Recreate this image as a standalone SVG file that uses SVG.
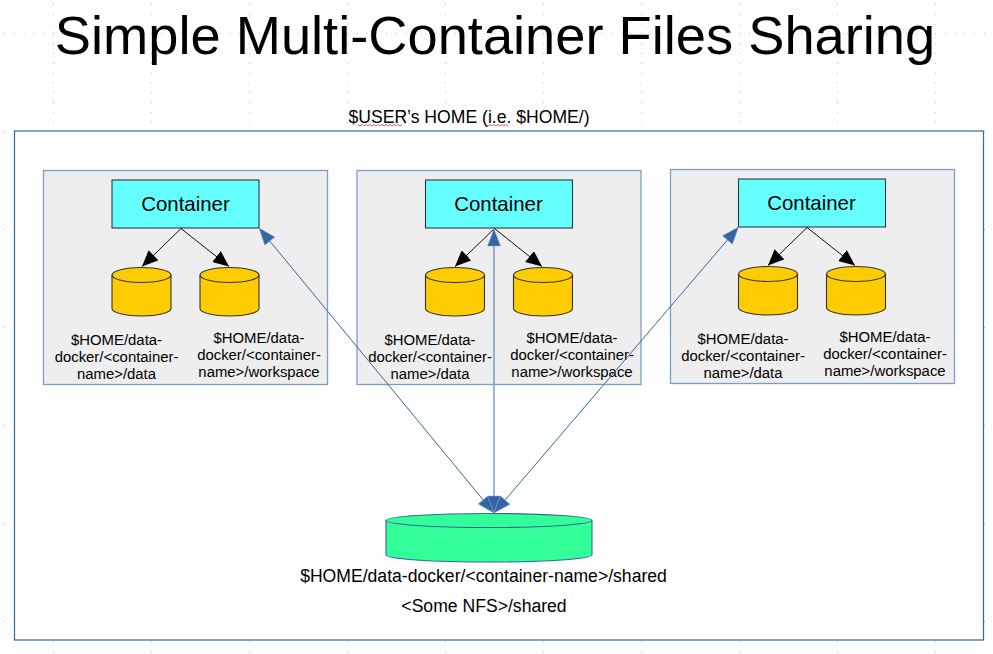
<svg xmlns="http://www.w3.org/2000/svg" width="993" height="654" viewBox="0 0 993 654">
<style>
text{font-family:"Liberation Sans",Arial,sans-serif;fill:#000;text-anchor:middle}
.t{font-size:14.9px}
.c{font-size:20.4px}
.s{font-size:17.6px}
.panel{fill:#eeeeee;stroke:#7f9cc8;stroke-width:1.3}
.box{fill:#66ffff;stroke:#2f3a3f;stroke-width:1.1}
.cyl{fill:#ffcc00;stroke:#333;stroke-width:1.1}
.k{stroke:#111;stroke-width:1;fill:none;marker-end:url(#ka)}
.b{stroke:#3465a4;stroke-width:1;fill:none;marker-start:url(#ba);marker-end:url(#ba)}
.w{fill:none;stroke:#e03030;stroke-width:.8}
</style>
<defs>
<pattern id="gv" width="98" height="9.8" patternUnits="userSpaceOnUse" x="53" y="4"><rect width="1" height="1" fill="#bbb"/></pattern>
<pattern id="gh" width="9.8" height="98" patternUnits="userSpaceOnUse" x="4" y="33"><rect width="1" height="1" fill="#bbb"/></pattern>
<marker id="ka" markerUnits="userSpaceOnUse" markerWidth="16" markerHeight="14" refX="16" refY="7" orient="auto"><path d="M0 0L16 7L0 14Z" fill="#000"/></marker>
<marker id="ba" markerUnits="userSpaceOnUse" markerWidth="20" markerHeight="16" refX="18" refY="8" orient="auto-start-reverse"><path d="M1 1.500L18 8L1 14.500Z" fill="#3465a4" stroke="#8fa8d0" stroke-width=".5"/></marker>
<g id="cyl"><path class="cyl" d="M0 7.500A29.500 7.500 0 0 1 59 7.500V41A29.500 7.500 0 0 1 0 41Z"/><path class="cyl" style="fill:none" d="M0 7.500A29.500 7.500 0 0 0 59 7.500"/></g>
</defs>
<rect width="993" height="654" fill="#fff"/>
<rect width="993" height="654" fill="url(#gv)"/>
<rect width="993" height="654" fill="url(#gh)"/>
<g id="title"><text x="495" y="54" style="font-size:54.25px">Simple Multi-Container Files Sharing</text></g>
<g id="home">
<rect x="14.500" y="131" width="969" height="509" fill="#fff" stroke="#3465a4" stroke-width="1.2"/>
<text x="469" y="123" class="s">$USER’s HOME (i.e. $HOME/)</text>
<path class="w" d="M358 124.500l2 1.500 2-1.500 2 1.500 2-1.500 2 1.500 2-1.500 2 1.500 2-1.500 2 1.500 2-1.500 2 1.500 2-1.500 2 1.500 2-1.500 2 1.500 2-1.500 2 1.500 2-1.500 2 1.500 2-1.500 2 1.500 2-1.500"/>
<path class="w" d="M486 124.500l2 1.500 2-1.500 2 1.500 2-1.500 2 1.500 2-1.500 2 1.500 2-1.500 2 1.500 2-1.500 2 1.500"/>
</g>
<g id="panel1">
<rect class="panel" x="43.500" y="170.500" width="284" height="214"/>
<rect class="box" x="112" y="180" width="147" height="48"/>
<text x="185.500" y="211" class="c">Container</text>
<use href="#cyl" x="112" y="267.500"/><use href="#cyl" x="200" y="267.500"/>
<text class="t" x="116.500" y="345">$HOME/data-</text><text class="t" x="116.500" y="362">docker/&lt;container-</text><text class="t" x="116.500" y="379">name&gt;/data</text>
<text class="t" x="259" y="343">$HOME/data-</text><text class="t" x="259" y="360">docker/&lt;container-</text><text class="t" x="259" y="377">name&gt;/workspace</text>
</g>
<g id="panel2">
<rect class="panel" x="357" y="170.500" width="284" height="214"/>
<rect class="box" x="425.500" y="180" width="147" height="48"/>
<text x="498.500" y="211" class="c">Container</text>
<use href="#cyl" x="425.500" y="267.500"/><use href="#cyl" x="513.500" y="267.500"/>
<text class="t" x="430" y="345">$HOME/data-</text><text class="t" x="430" y="362">docker/&lt;container-</text><text class="t" x="430" y="379">name&gt;/data</text>
<text class="t" x="572" y="343">$HOME/data-</text><text class="t" x="572" y="360">docker/&lt;container-</text><text class="t" x="572" y="377">name&gt;/workspace</text>
</g>
<g id="panel3">
<rect class="panel" x="670.500" y="169.500" width="284" height="214"/>
<rect class="box" x="738.500" y="179" width="147" height="48"/>
<text x="811.500" y="210" class="c">Container</text>
<use href="#cyl" x="738.500" y="266.500"/><use href="#cyl" x="826.500" y="266.500"/>
<text class="t" x="743" y="344">$HOME/data-</text><text class="t" x="743" y="361">docker/&lt;container-</text><text class="t" x="743" y="378">name&gt;/data</text>
<text class="t" x="885" y="342">$HOME/data-</text><text class="t" x="885" y="359">docker/&lt;container-</text><text class="t" x="885" y="376">name&gt;/workspace</text>
</g>
<g id="shared">
<path d="M386 520.500A103 7 0 0 1 592 520.500V555A103 7 0 0 1 386 555Z" fill="#33ff99" stroke="#3465a4" stroke-width="1.1"/>
<path d="M386 520.500A103 7 0 0 0 592 520.500" fill="none" stroke="#3465a4" stroke-width="1.1"/>
<text x="483.500" y="582" class="s">$HOME/data-docker/&lt;container-name&gt;/shared</text>
<text x="484" y="612" class="s">&lt;Some NFS&gt;/shared</text>
</g>
<g id="connectors">
<path class="k" d="M181 228.500L142 266.500"/><path class="k" d="M181 228.500L229 266.500"/>
<path class="k" d="M494.500 228.500L455 266.500"/><path class="k" d="M494.500 228.500L542 266.500"/>
<path class="k" d="M807 227.500L768 265.500"/><path class="k" d="M807 227.500L855 265.500"/>
<path class="b" d="M259 228L494 513"/>
<path class="b" d="M494 229L494 513" style="stroke-width:1.500;stroke:#7f9cc8"/>
<path class="b" d="M738.500 227L494 513"/>
</g>
</svg>
